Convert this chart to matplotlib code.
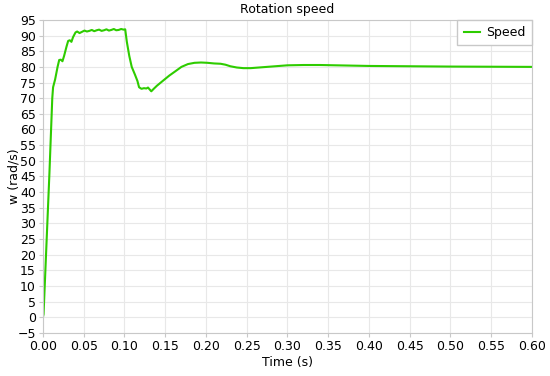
import matplotlib
matplotlib.use("Agg")
import matplotlib.pyplot as plt

# rotation speed trace
time_s = [0.0, 0.0008, 0.004, 0.008, 0.0115, 0.0125, 0.015, 0.018, 0.020, 0.022,
          0.024, 0.026, 0.029, 0.031, 0.033, 0.035, 0.037, 0.040, 0.042, 0.045,
          0.048, 0.051, 0.054, 0.057, 0.060, 0.063, 0.066, 0.069, 0.072, 0.075,
          0.078, 0.081, 0.084, 0.087, 0.090, 0.093, 0.096, 0.099, 0.101, 0.103,
          0.106, 0.109, 0.113, 0.116, 0.118, 0.121, 0.124, 0.127, 0.129, 0.131,
          0.133, 0.136, 0.140, 0.147, 0.155, 0.162, 0.170, 0.178, 0.186, 0.194,
          0.202, 0.210, 0.218, 0.224, 0.230, 0.238, 0.246, 0.255, 0.265, 0.280,
          0.300, 0.320, 0.340, 0.360, 0.400, 0.450, 0.500, 0.550, 0.600]
speed = [0.0, 1.0, 21.0, 46.0, 70.0, 73.5, 76.0, 80.0, 82.2, 82.3,
         81.8, 83.5, 86.5, 88.3, 88.5, 88.0, 89.5, 91.0, 91.3, 90.8,
         91.2, 91.6, 91.3, 91.5, 91.8, 91.4, 91.7, 91.9, 91.5, 91.7,
         92.0, 91.6, 91.8, 92.1, 91.7, 91.8, 92.1, 91.9, 92.0, 88.0,
         83.5, 80.0, 77.5, 75.5, 73.5, 73.0, 73.2, 73.1, 73.4, 72.8,
         72.2, 73.0, 74.0, 75.5, 77.2, 78.5, 80.0, 80.9, 81.3, 81.4,
         81.3, 81.1, 81.0, 80.7, 80.2, 79.8, 79.6, 79.6, 79.8, 80.1,
         80.5, 80.6, 80.6, 80.5, 80.3, 80.2, 80.1, 80.05, 80.0]

x_ticks = [i * 0.05 for i in range(13)]
y_ticks = list(range(-5, 100, 5))

fig = plt.figure(figsize=(5.5, 3.76), dpi=100)
ax = fig.add_axes([0.078, 0.1144, 0.889, 0.8326])

ax.plot(time_s, speed, color="#2ecc00", linewidth=1.5, label="Speed")

ax.set_xlim(0, 0.6)
ax.set_ylim(-5, 95)
ax.set_xticks(x_ticks)
ax.set_xticklabels([f"{v:.2f}" for v in x_ticks])
ax.set_yticks(y_ticks)
ax.grid(True, color="#e8e8e8", linewidth=0.8)
ax.set_axisbelow(True)

for side in ["left", "bottom", "right", "top"]:
    ax.spines[side].set_color("#c8c8c8")
ax.tick_params(axis="both", labelsize=9, color="#c8c8c8", length=3, pad=2)

ax.set_title("Rotation speed", fontsize=9, pad=5)
ax.set_xlabel("Time (s)", fontsize=9, labelpad=2)
ax.set_ylabel("w (rad/s)", fontsize=9)
ax.yaxis.set_label_coords(-0.045, 0.5)

leg = ax.legend(loc="upper right", fontsize=9, fancybox=False,
                framealpha=1, borderaxespad=0, handlelength=1.3,
                handletextpad=0.5, borderpad=0.5)
leg.get_frame().set_edgecolor("#c8c8c8")

fig.savefig("out.png", dpi=100)
